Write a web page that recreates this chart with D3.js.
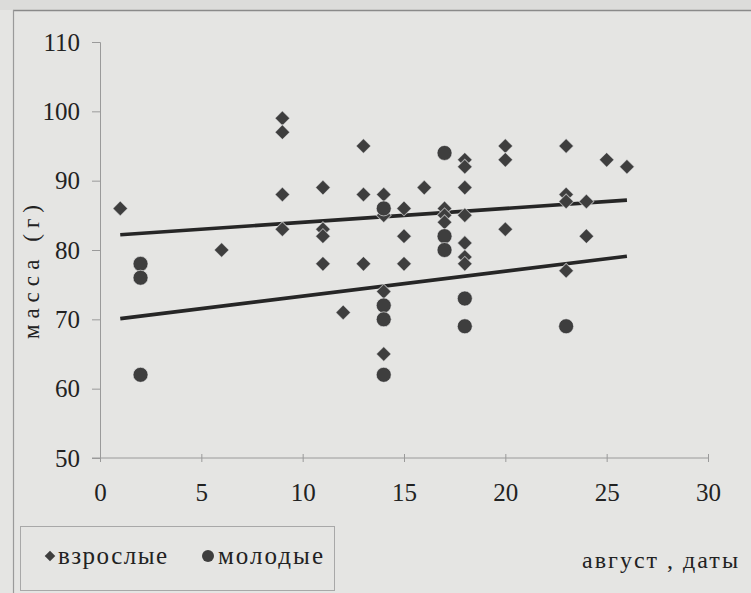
<!DOCTYPE html>
<html>
<head>
<meta charset="utf-8">
<script src="https://cdn.jsdelivr.net/npm/d3@7/dist/d3.min.js"></script>
<style>
  html, body { margin: 0; padding: 0; background: #e4e4e2; }
  svg { display: block; }
</style>
</head>
<body>
<svg id="chart" width="751" height="593" font-family="Liberation Serif"></svg>
<script>
// Body mass of adult and young birds by date in August
const adultDay  = [1, 6, 9, 9, 9, 9, 11, 11, 11, 11, 12, 13, 13, 13, 14, 14, 14, 14,
                   15, 15, 15, 16, 17, 17, 17, 18, 18, 18, 18, 18, 18, 18,
                   20, 20, 20, 23, 23, 23, 23, 24, 24, 25, 26];
const adultMass = [86, 80, 99, 97, 88, 83, 89, 83, 82, 78, 71, 95, 88, 78, 88, 85, 74, 65,
                   86, 82, 78, 89, 86, 85, 84, 93, 92, 89, 85, 81, 79, 78,
                   95, 93, 83, 95, 88, 87, 77, 87, 82, 93, 92];

const youngDay  = [2, 2, 2, 14, 14, 14, 14, 17, 17, 17, 18, 18, 23];
const youngMass = [78, 76, 62, 86, 72, 70, 62, 94, 82, 80, 73, 69, 69];

// Linear trend lines (endpoints)
const adultTrendDay  = [1, 26];
const adultTrendMass = [82.2, 87.2];
const youngTrendDay  = [1, 26];
const youngTrendMass = [70.1, 79.1];

const xTicks = [0, 5, 10, 15, 20, 25, 30];
const yTicks = [50, 60, 70, 80, 90, 100, 110];

const seriesNames = ["взрослые", "молодые"];
const xTitle = "август , даты";
const yTitle = "масса (г)";

const SERIF = "Liberation Serif";
const INK = "#222";

const svg = d3.select("#chart");
const W = 751, H = 593;

svg.append("rect").attr("width", W).attr("height", H).attr("fill", "#e5e5e3");
svg.append("rect").attr("width", W).attr("height", 10).attr("fill", "#dcdcda");

// outer frame edges
svg.append("line").attr("x1", 13).attr("x2", W).attr("y1", 10.5).attr("y2", 10.5)
  .attr("stroke", "#8a8a8a").attr("stroke-width", 1.5);
svg.append("line").attr("x1", 13.5).attr("x2", 13.5).attr("y1", 10).attr("y2", H)
  .attr("stroke", "#9a9a9a").attr("stroke-width", 1.2);

const x = d3.scaleLinear().domain([0, 30]).range([100, 708]);
const y = d3.scaleLinear().domain([50, 110]).range([458, 42]);

// y axis
const yAxis = svg.append("g").attr("transform", "translate(100,0)")
  .call(d3.axisLeft(y).tickValues(yTicks).tickSize(8).tickPadding(12))
  .attr("font-family", SERIF).attr("font-size", 25);
yAxis.select(".domain").attr("stroke", "#9a9a9a").attr("stroke-width", 1);
yAxis.selectAll(".tick line").attr("stroke", "#9a9a9a");
yAxis.selectAll(".tick text").attr("fill", INK);

// x axis
const xAxis = svg.append("g").attr("transform", "translate(0,458)")
  .call(d3.axisBottom(x).tickValues(xTicks).tickSize(4).tickPadding(21))
  .attr("font-family", SERIF).attr("font-size", 25);
xAxis.select(".domain").attr("stroke", "#9a9a9a").attr("stroke-width", 1)
  .attr("d", "M92,0H708");
xAxis.selectAll(".tick line").attr("stroke", "#9a9a9a").attr("y1", -4);
xAxis.selectAll(".tick text").attr("fill", INK);

// axis titles
svg.append("text")
  .attr("transform", "translate(39,272) rotate(-90)")
  .attr("text-anchor", "middle")
  .attr("textLength", 134).attr("lengthAdjust", "spacing")
  .attr("font-family", SERIF).attr("font-size", 23).attr("fill", INK)
  .text(yTitle);

svg.append("text")
  .attr("x", 582).attr("y", 568)
  .attr("textLength", 156).attr("lengthAdjust", "spacing")
  .attr("font-family", SERIF).attr("font-size", 24).attr("fill", INK)
  .text(xTitle);

// trend lines
const line = d3.line().x(d => x(d[0])).y(d => y(d[1]));
[[adultTrendDay, adultTrendMass], [youngTrendDay, youngTrendMass]].forEach(([ds, ms]) => {
  svg.append("path")
    .datum(ds.map((d, i) => [d, ms[i]]))
    .attr("d", line)
    .attr("fill", "none")
    .attr("stroke", "#262626")
    .attr("stroke-width", 3.6);
});

const markFill = "#3e3e3e";
const halo = "#f2f2f2";

// adult points (diamonds)
svg.append("g").selectAll("path")
  .data(adultDay.map((d, i) => [d, adultMass[i]]))
  .join("path")
  .attr("d", d3.symbol().type(d3.symbolSquare).size(112))
  .attr("transform", d => `translate(${x(d[0])},${y(d[1])}) rotate(45)`)
  .attr("fill", markFill)
  .attr("stroke", halo).attr("stroke-opacity", 0.6).attr("stroke-width", 1);

// young points (circles)
svg.append("g").selectAll("circle")
  .data(youngDay.map((d, i) => [d, youngMass[i]]))
  .join("circle")
  .attr("cx", d => x(d[0]))
  .attr("cy", d => y(d[1]))
  .attr("r", 7.5)
  .attr("fill", markFill)
  .attr("stroke", halo).attr("stroke-opacity", 0.6).attr("stroke-width", 1);

// legend
const lg = svg.append("g");
lg.append("rect")
  .attr("x", 20.5).attr("y", 526.5).attr("width", 314).attr("height", 64)
  .attr("fill", "none").attr("stroke", "#a8a8a8").attr("stroke-width", 1);
lg.append("path")
  .attr("d", d3.symbol().type(d3.symbolSquare).size(56))
  .attr("transform", "translate(50,556) rotate(45)")
  .attr("fill", markFill);
lg.append("text").attr("x", 58).attr("y", 564)
  .attr("textLength", 109).attr("lengthAdjust", "spacing")
  .attr("font-family", SERIF).attr("font-size", 25).attr("fill", INK)
  .text(seriesNames[0]);
lg.append("circle").attr("cx", 208).attr("cy", 556).attr("r", 6).attr("fill", markFill);
lg.append("text").attr("x", 218).attr("y", 564)
  .attr("textLength", 105).attr("lengthAdjust", "spacing")
  .attr("font-family", SERIF).attr("font-size", 25).attr("fill", INK)
  .text(seriesNames[1]);
</script>
</body>
</html>
